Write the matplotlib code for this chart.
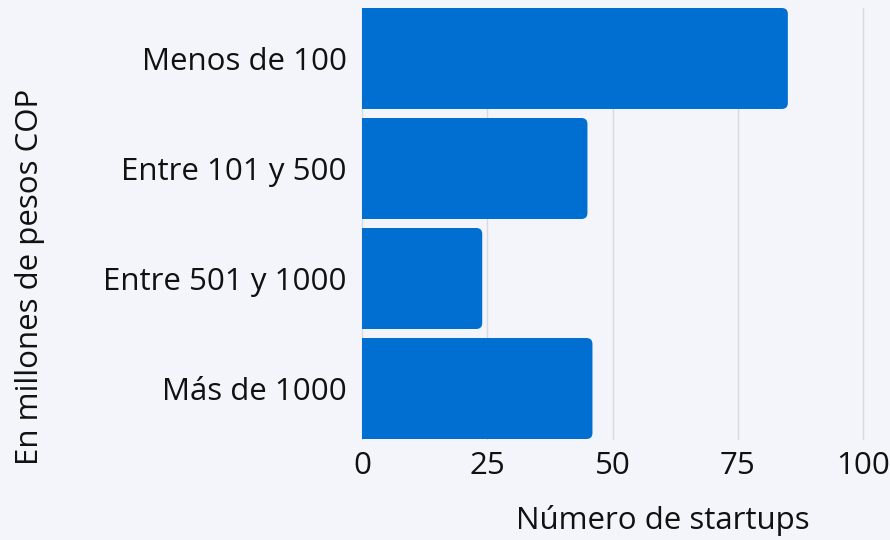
import matplotlib
matplotlib.use("Agg")
import matplotlib.pyplot as plt
from matplotlib.patches import FancyBboxPatch

categories = ["Menos de 100", "Entre 101 y 500", "Entre 501 y 1000", "Más de 1000"]
values = [85, 45, 24, 46]
x_ticks = [0, 25, 50, 75, 100]
x_label = "Número de startups"
y_label = "En millones de pesos COP"

BG = "#f4f5fa"
BAR = "#006fd1"
GRID = "#d9dade"

plt.rcParams["font.family"] = ["Open Sans", "DejaVu Sans"]
fig = plt.figure(figsize=(8.9, 5.4), dpi=100, facecolor=BG)
ax = fig.add_axes([362/890, 1-439/540, 501/890, 431/540])
ax.set_facecolor(BG)

h = 0.918
pos = list(range(len(categories)))
bars = ax.barh(pos, values, height=h, color=BAR, zorder=2)

px_per_x = 501/100
px_per_y = 431/(3+h)
r_px = 6
for b in bars:
    x0, y0 = b.get_x(), b.get_y()
    w, hh = b.get_width(), b.get_height()
    b.set_visible(False)
    r = r_px/px_per_x
    p = FancyBboxPatch((x0-5, y0), w+5, hh,
                       boxstyle=f"round,pad=0,rounding_size={r}",
                       mutation_aspect=px_per_x/px_per_y,
                       facecolor=BAR, edgecolor="none", zorder=2)
    ax.add_patch(p)

FS = 22.5
ax.set_xlim(0, 100)
ax.set_ylim(3 + h/2, -h/2)
ax.set_yticks(pos)
ax.set_yticklabels(categories)
ax.set_xticks(x_ticks)
ax.set_xticklabels([str(t) for t in x_ticks])
ax.tick_params(axis="both", length=0, labelsize=FS, colors="#111111")
ax.tick_params(axis="x", pad=9)
ax.tick_params(axis="y", pad=11)
for s in ax.spines.values():
    s.set_visible(False)
ax.grid(axis="x", color=GRID, linewidth=1, zorder=0)
for gl in ax.get_xgridlines():
    gl.set_clip_on(False)
ax.set_axisbelow(True)

ax.set_xlabel(x_label, fontsize=FS, color="#111111")
ax.xaxis.set_label_coords((663-362)/501, (439-521)/431)
ax.xaxis.label.set_va("center")
ax.set_ylabel(y_label, fontsize=FS, color="#111111")
ax.yaxis.set_label_coords((30-362)/501, (439-277)/431)
ax.yaxis.label.set_va("center")

fig.savefig("out.png", dpi=100, facecolor=BG)
